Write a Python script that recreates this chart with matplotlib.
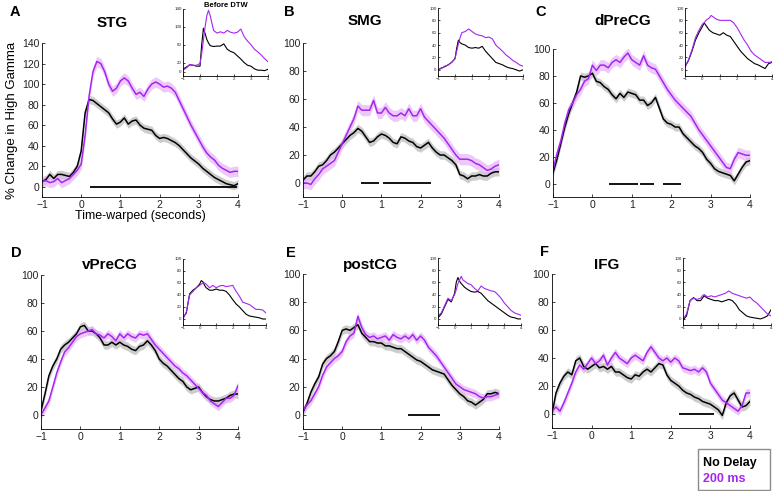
import numpy as np
import matplotlib
matplotlib.use('Agg')
import matplotlib.pyplot as plt
from matplotlib.patches import Rectangle

plt.rcParams['font.family'] = ['Liberation Sans', 'DejaVu Sans']

# time axes (seconds)
t_main = np.round(np.arange(-1, 4.001, 0.1), 1)
t_ins = [-1, -0.8, -0.6, -0.4, -0.2, 0, 0.1, 0.2, 0.3, 0.4, 0.5, 0.6, 0.8, 1.0, 1.2,
         1.4, 1.6, 1.8, 2.0, 2.2, 2.4, 2.6, 2.8, 3.0, 3.2, 3.4, 3.6, 3.8, 4.0]

regions = ['STG', 'SMG', 'dPreCG', 'vPreCG', 'postCG', 'IFG']
letters = ['A', 'B', 'C', 'D', 'E', 'F']

# main traces: No Delay (black) and 200 ms (purple)
stg_nd = [5, 7, 12, 8, 12, 12, 11, 10, 14, 20,
          35, 72, 85, 84, 81, 78, 75, 72, 66, 61,
          63, 67, 61, 64, 65, 60, 57, 56, 55, 50,
          47, 48, 47, 45, 43, 40, 36, 32, 28, 25,
          22, 18, 15, 12, 9, 7, 5, 3, 2, 1, 3]
stg_200 = [5, 6, 4, 5, 8, 4, 6, 8, 12, 16,
           22, 50, 88, 112, 122, 120, 112, 100, 93, 96,
           103, 106, 103, 96, 90, 92, 88, 95, 100, 102,
           100, 97, 98, 96, 92, 84, 76, 68, 60, 53,
           46, 39, 33, 29, 26, 21, 18, 16, 14, 15, 15]
smg_nd = [2, 5, 5, 8, 12, 13, 16, 20, 22, 25,
          28, 31, 34, 36, 39, 37, 33, 29, 30, 33,
          35, 34, 32, 29, 28, 33, 32, 30, 29, 26,
          25, 27, 29, 25, 22, 20, 20, 18, 16, 13,
          6, 5, 3, 5, 5, 6, 5, 5, 7, 8, 8]
smg_200 = [0, 0, -1, 3, 6, 10, 12, 14, 16, 22,
           28, 34, 40, 46, 55, 52, 52, 52, 59, 50,
           50, 54, 50, 48, 48, 50, 48, 53, 48, 48,
           53, 47, 44, 41, 38, 35, 32, 28, 24, 20,
           17, 17, 17, 16, 14, 13, 11, 9, 10, 12, 13]
dprecg_nd = [8, 18, 30, 42, 52, 60, 68, 80, 79, 80,
             82, 76, 75, 72, 70, 66, 63, 67, 64, 68,
             67, 66, 62, 62, 58, 60, 64, 56, 48, 45,
             44, 42, 42, 37, 34, 31, 28, 26, 23, 18,
             15, 11, 9, 8, 7, 6, 2, 7, 12, 16, 17]
dprecg_200 = [10, 22, 32, 45, 55, 60, 66, 70, 76, 78,
              88, 84, 88, 88, 86, 90, 92, 90, 94, 97,
              92, 90, 88, 95, 88, 86, 85, 80, 75, 70,
              66, 62, 59, 56, 53, 50, 45, 40, 36, 32,
              28, 24, 20, 16, 12, 11, 18, 23, 22, 21, 21]
vprecg_nd = [3, 15, 28, 35, 40, 47, 50, 52, 55, 58,
             63, 64, 60, 60, 58, 55, 50, 50, 52, 50,
             52, 50, 49, 47, 46, 49, 50, 53, 50, 46,
             40, 37, 35, 32, 29, 26, 24, 20, 18, 19,
             20, 16, 13, 11, 10, 10, 11, 12, 14, 15, 15]
vprecg_200 = [0, 5, 10, 20, 30, 38, 45, 48, 52, 56,
              58, 59, 60, 61, 58, 57, 55, 58, 56, 53,
              58, 55, 58, 56, 55, 58, 57, 58, 54, 50,
              47, 44, 41, 38, 35, 33, 30, 28, 25, 22,
              19, 16, 14, 10, 8, 6, 9, 12, 12, 14, 21]
postcg_nd = [2, 8, 16, 22, 27, 36, 40, 42, 45, 52,
             60, 61, 60, 62, 64, 58, 55, 52, 52, 51,
             51, 49, 49, 48, 47, 47, 45, 43, 41, 39,
             38, 36, 34, 32, 31, 30, 29, 25, 21, 18,
             15, 13, 10, 9, 7, 9, 11, 15, 15, 16, 15]
postcg_200 = [3, 7, 10, 15, 20, 28, 34, 37, 40, 42,
              45, 52, 56, 58, 70, 62, 57, 55, 56, 54,
              55, 56, 53, 57, 55, 54, 56, 54, 57, 53,
              56, 53, 48, 45, 42, 38, 34, 30, 26, 22,
              20, 18, 17, 16, 15, 13, 12, 13, 13, 14, 15]
ifg_nd = [0, 15, 22, 27, 30, 28, 38, 40, 34, 32,
          34, 36, 33, 34, 32, 34, 30, 30, 28, 26,
          25, 28, 27, 30, 32, 30, 33, 36, 35, 28,
          24, 22, 20, 17, 15, 14, 12, 11, 9, 8,
          7, 5, 3, -1, 8, 13, 15, 10, 5, 6, 9]
ifg_200 = [2, 5, 2, 8, 15, 22, 30, 35, 32, 36,
           40, 36, 38, 42, 35, 40, 44, 40, 38, 36,
           40, 42, 40, 38, 44, 48, 44, 40, 38, 40,
           37, 40, 38, 33, 32, 31, 32, 30, 33, 30,
           22, 18, 14, 10, 8, 6, 4, 2, 6, 15, 15]

# inset traces (before DTW)
stg_nd_raw = [5, 10, 15, 14, 12, 12, 60, 97, 85, 72, 64, 58, 56, 57, 57,
              62, 50, 45, 42, 35, 28, 20, 14, 12, 6, 3, 3, 2, 5]
stg_200_raw = [3, 8, 16, 14, 14, 18, 40, 70, 100, 125, 137, 125, 92, 86, 89,
               86, 92, 88, 86, 88, 95, 78, 68, 60, 50, 44, 37, 29, 22]
smg_nd_raw = [0, 3, 5, 8, 12, 18, 35, 48, 44, 42, 41, 40, 36, 35, 36,
              35, 38, 30, 24, 18, 12, 10, 8, 5, 3, 2, 0, -2, 0]
smg_200_raw = [0, 2, 6, 8, 12, 18, 30, 42, 52, 60, 61, 62, 66, 62, 58,
               56, 55, 52, 53, 50, 40, 35, 30, 24, 20, 15, 12, 8, 6]
dprecg_nd_raw = [5, 15, 30, 48, 60, 70, 76, 72, 68, 64, 62, 60, 58, 56, 60,
                 56, 54, 46, 38, 30, 24, 18, 14, 10, 8, 5, 2, 10, 12]
dprecg_200_raw = [5, 16, 32, 52, 64, 74, 76, 80, 82, 84, 88, 86, 82, 80, 80,
                  80, 80, 76, 68, 58, 48, 40, 30, 24, 20, 16, 12, 12, 13]
vprecg_nd_raw = [2, 10, 42, 48, 52, 58, 64, 62, 56, 52, 50, 48, 48, 50, 48,
                 48, 46, 40, 32, 25, 20, 14, 8, 5, 4, 3, 2, 0, 0]
vprecg_200_raw = [0, 12, 40, 46, 52, 56, 58, 60, 60, 58, 55, 52, 56, 52, 55,
                  56, 54, 55, 56, 46, 38, 28, 26, 24, 20, 16, 16, 15, 10]
postcg_nd_raw = [2, 8, 20, 32, 28, 42, 60, 68, 62, 58, 55, 52, 48, 45, 44,
                 45, 42, 36, 30, 26, 22, 18, 14, 10, 6, 3, 2, 0, 0]
postcg_200_raw = [5, 10, 22, 34, 30, 40, 48, 58, 64, 70, 64, 62, 58, 56, 50,
                  46, 54, 50, 48, 46, 45, 40, 34, 26, 20, 14, 10, 8, 6]
ifg_nd_raw = [-2, 5, 30, 35, 30, 30, 34, 38, 36, 34, 33, 32, 30, 30, 28,
              30, 32, 30, 24, 15, 10, 5, 3, 2, 1, 0, 2, 5, 15]
ifg_200_raw = [0, 8, 30, 34, 32, 34, 38, 40, 38, 36, 37, 38, 36, 38, 40,
               42, 46, 42, 40, 38, 36, 34, 36, 30, 26, 20, 14, 8, 5]

# standard error (band half-width) per panel: (No Delay, 200 ms)
sem = [(4, 5), (3, 4), (3, 4), (3, 3), (3, 3), (3, 3)]

# significance bars (start, end) in seconds
sig_bars = [[(0.23, 3.97)],
            [(0.49, 0.94), (1.03, 2.27)],
            [(0.42, 1.16), (1.20, 1.56), (1.78, 2.26)],
            [],
            [(1.69, 2.50)],
            [(2.20, 3.09)]]

main_nd = [stg_nd, smg_nd, dprecg_nd, vprecg_nd, postcg_nd, ifg_nd]
main_200 = [stg_200, smg_200, dprecg_200, vprecg_200, postcg_200, ifg_200]
raw_nd = [stg_nd_raw, smg_nd_raw, dprecg_nd_raw, vprecg_nd_raw, postcg_nd_raw, ifg_nd_raw]
raw_200 = [stg_200_raw, smg_200_raw, dprecg_200_raw, vprecg_200_raw, postcg_200_raw, ifg_200_raw]

W, H = 774, 491
PURPLE = '#A526F2'


def box(left, right, top, bottom):
    # pixel box -> figure fraction
    return [left / W, (H - bottom) / H, (right - left) / W, (bottom - top) / H]


# axes positions in pixels (left, right, top, bottom)
main_pos = [(42, 238, 43, 197), (303, 499, 43, 197), (553, 750, 49, 197),
            (41, 238, 275, 429), (303, 499, 274, 429), (552, 750, 274, 428)]
inset_pos = [(183, 268, 9, 76), (438, 523, 8, 76), (685, 772, 8, 76),
             (183, 266, 259, 325), (438, 521, 258, 325), (683, 771, 258, 325)]
title_pos = [(112, 23), (365, 21), (623, 21), (110, 265), (370, 265), (607, 265)]
letter_pos = [(10, 12), (284, 12), (535, 12), (11, 253), (286, 253), (540, 252)]

fig = plt.figure(figsize=(W / 100, H / 100), dpi=100)


def style(ax, size, tl):
    for s in ['top', 'right']:
        ax.spines[s].set_visible(False)
    for s in ['left', 'bottom']:
        ax.spines[s].set_linewidth(0.6)
    ax.tick_params(direction='in', length=tl, width=0.6, labelsize=size,
                   colors='#222222', pad=2)


for i in range(6):
    ymax = 140 if i == 0 else 100
    nd = np.array(main_nd[i], dtype=float)
    d2 = np.array(main_200[i], dtype=float)
    s_nd, s_200 = sem[i]

    ax = fig.add_axes(box(*main_pos[i]))
    ax.fill_between(t_main, nd - s_nd, nd + s_nd, color='#b8b8b8', alpha=0.7, lw=0)
    ax.plot(t_main, nd, color='black', lw=1.1)
    ax.fill_between(t_main, d2 - s_200, d2 + s_200, color='#e6b3f8', alpha=0.7, lw=0)
    ax.plot(t_main, d2, color=PURPLE, lw=1.1)
    for a, b in sig_bars[i]:
        ax.plot([a, b], [0, 0], color='black', lw=1.3, solid_capstyle='butt')
    ax.set_xlim(-1, 4)
    ax.set_ylim(-10, ymax)
    ax.set_xticks(range(-1, 5))
    ax.set_yticks(range(0, ymax + 1, 20))
    style(ax, 7.5, 2.5)
    if i == 0:
        ax.set_ylabel('% Change in High Gamma', fontsize=9.5, labelpad=3)
        ax.set_xlabel('Time-warped (seconds)', fontsize=9, labelpad=0)

    fig.text(title_pos[i][0] / W, 1 - title_pos[i][1] / H, regions[i],
             fontsize=11, fontweight='bold', ha='center', va='center')
    fig.text(letter_pos[i][0] / W, 1 - letter_pos[i][1] / H, letters[i],
             fontsize=10.5, fontweight='bold', ha='left', va='center')

    # inset: before DTW
    ax2 = fig.add_axes(box(*inset_pos[i]))
    ax2.plot(t_ins, raw_nd[i], color='black', lw=0.8)
    ax2.plot(t_ins, raw_200[i], color=PURPLE, lw=0.8)
    ax2.set_xlim(-1, 4)
    ax2.set_ylim(-10, ymax)
    ax2.set_xticks(range(-1, 5))
    if i == 0:
        ax2.set_yticks([0, 20, 60, 100, 140])
        ax2.set_title('Before DTW', fontsize=5.5, fontweight='bold', pad=1)
    else:
        ax2.set_yticks(range(0, 101, 20))
    style(ax2, 3.2, 1.2)
    ax2.tick_params(pad=1)
    ax2.patch.set_alpha(0)

# legend box
fig.patches.append(Rectangle((698 / W, 1 - 490 / H), 72 / W, 41 / H,
                             transform=fig.transFigure, fill=False,
                             edgecolor='#8c8c8c', lw=1.0))
fig.text(703 / W, 1 - 463 / H, 'No Delay', fontsize=9, fontweight='bold',
         color='black', ha='left', va='center')
fig.text(703 / W, 1 - 479 / H, '200 ms', fontsize=9, fontweight='bold',
         color=PURPLE, ha='left', va='center')

fig.savefig('out.png', dpi=100)
